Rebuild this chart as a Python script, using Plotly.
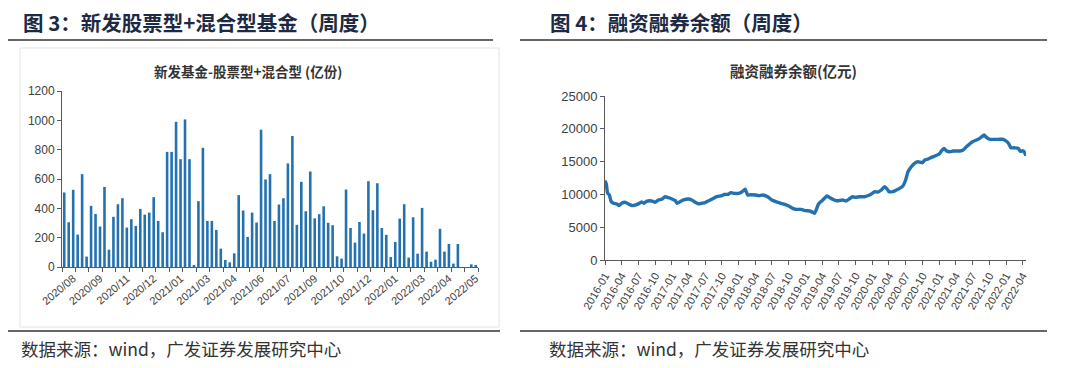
import plotly.graph_objects as go
import pandas as pd

# ---------------- data ----------------
fund_values = [
    508, 305, 526, 221, 633, 71, 417, 362, 276, 546, 118, 342, 428, 469, 269, 326, 280, 396, 357, 371, 476, 314, 237,
    785, 785, 990, 735, 1006, 735, 9, 449, 813, 314, 314, 253, 125, 48, 32, 93, 490, 385, 205, 371, 303, 936,
    597, 633, 314, 426, 469, 706, 893, 287, 581, 380, 651, 332, 360, 414, 301, 285, 73, 57, 528, 266, 166, 307, 228, 585, 387,
    571, 266, 219, 68, 171, 330, 428, 64, 339, 91, 403, 105, 36, 50, 260, 105, 157, 23, 157, 0, 0, 18, 14,
]
fund_weeks = pd.date_range("2020-08-14", periods=len(fund_values), freq="7D").strftime("%Y-%m-%d").tolist()
fund_tick_labels = ["2020/08", "2020/09", "2020/11", "2020/12", "2021/01", "2021/03", "2021/04", "2021/06",
                    "2021/07", "2021/09", "2021/10", "2021/12", "2022/01", "2022/03", "2022/04", "2022/05"]

margin_dates = [
    "2016-01-01", "2016-01-08", "2016-01-15", "2016-01-25", "2016-02-03", "2016-02-16", "2016-03-05", "2016-03-18",
    "2016-04-01", "2016-04-19", "2016-05-08", "2016-05-26", "2016-06-13", "2016-07-01", "2016-07-19", "2016-08-01",
    "2016-08-15", "2016-09-12", "2016-10-01", "2016-10-19", "2016-11-06", "2016-11-24", "2016-12-13", "2017-01-01",
    "2017-01-19", "2017-01-28", "2017-02-15", "2017-03-05", "2017-04-01", "2017-04-19", "2017-05-08", "2017-05-26",
    "2017-06-13", "2017-07-01", "2017-07-19", "2017-08-07", "2017-09-03", "2017-10-01", "2017-10-14", "2017-11-01",
    "2017-11-19", "2017-12-08", "2018-01-01", "2018-01-19", "2018-02-05", "2018-02-19", "2018-03-09", "2018-04-01",
    "2018-04-23", "2018-05-11", "2018-06-08", "2018-07-01", "2018-07-23", "2018-08-19", "2018-09-16", "2018-10-01",
    "2018-10-23", "2018-11-10", "2018-12-08", "2019-01-01", "2019-01-23", "2019-02-10", "2019-02-19", "2019-02-28",
    "2019-03-13", "2019-04-01", "2019-04-14", "2019-04-28", "2019-05-11", "2019-05-29", "2019-06-16", "2019-07-01",
    "2019-07-23", "2019-08-10", "2019-08-28", "2019-09-15", "2019-10-01", "2019-10-23", "2019-11-19", "2019-12-17",
    "2020-01-01", "2020-01-14", "2020-02-01", "2020-02-19", "2020-03-08", "2020-03-26", "2020-04-01", "2020-04-23",
    "2020-05-11", "2020-05-29", "2020-06-16", "2020-07-01", "2020-07-14", "2020-08-01", "2020-08-19", "2020-09-06",
    "2020-10-01", "2020-10-14", "2020-11-01", "2020-11-19", "2020-12-08", "2021-01-01", "2021-01-14", "2021-01-27",
    "2021-02-10", "2021-02-28", "2021-03-18", "2021-04-01", "2021-04-23", "2021-05-11", "2021-05-29", "2021-06-16",
    "2021-07-01", "2021-07-23", "2021-08-10", "2021-09-03", "2021-09-16", "2021-10-01", "2021-10-23", "2021-11-19",
    "2021-12-17", "2022-01-01", "2022-01-14", "2022-01-27", "2022-02-19", "2022-03-09", "2022-03-20", "2022-04-01",
    "2022-04-10", "2022-04-19",
]
margin_values = [
    12100, 11600, 10200, 9900, 8950, 8650, 8550, 8300,
    8650, 8800, 8550, 8300, 8380, 8550, 8850, 8650,
    8950, 9000, 8800, 9150, 9250, 9650, 9500, 9300,
    9050, 8650, 8900, 9150, 9300, 9150, 8800, 8550,
    8650, 8750, 9000, 9250, 9650, 9800, 10000, 10000,
    10250, 10150, 10150, 10400, 10800, 9900, 9950, 9900,
    9800, 9900, 9650, 9150, 8900, 8650, 8400, 8230,
    7870, 7720, 7720, 7520, 7470, 7260, 7110, 7620,
    8540, 9040, 9400, 9750, 9550, 9250, 9040, 9040,
    9140, 9000, 9300, 9650, 9550, 9650, 9650, 9900,
    10160, 10410, 10360, 10670, 11180, 10670, 10410, 10410,
    10670, 10920, 11280, 12190, 13460, 14220, 14730, 14990,
    14830, 15240, 15390, 15650, 15850, 16150, 16660, 17020,
    16610, 16510, 16610, 16610, 16610, 16760, 17270, 17680,
    18030, 18290, 18540, 19050, 18690, 18440, 18390, 18390,
    18400, 18140, 17780, 17120, 17100, 17020, 16550, 16650,
    16500, 15900,
]

# ---------------- helpers ----------------
W, H = 1080, 368
def px(x):
    return x / W
def py(y):
    return 1 - y / H

BLUE = "#2471b0"
AXIS = "#595959"
TXT = "#404040"
CJK = "Noto Sans CJK SC"
LAT = "Liberation Sans, Arial, sans-serif"

fig = go.Figure()

# left bars
n = len(fund_values)
fig.add_trace(go.Bar(
    x=list(range(n)), y=fund_values, marker_color=BLUE, marker_line_width=0,
    width=0.58, xaxis="x", yaxis="y", showlegend=False,
    customdata=fund_weeks, hovertemplate="%{customdata}: %{y}<extra></extra>",
))

# right line
fig.add_trace(go.Scatter(
    x=margin_dates, y=margin_values, mode="lines",
    line=dict(color=BLUE, width=3.4, shape="spline", smoothing=0.4),
    xaxis="x2", yaxis="y2", showlegend=False,
))

label_pos = list(range(2, n, 6))[:len(fund_tick_labels)]

fig.update_layout(
    width=W, height=H, margin=dict(l=0, r=0, t=0, b=0, pad=0, autoexpand=False),
    paper_bgcolor="white", plot_bgcolor="white",
    xaxis=dict(
        domain=[px(62), px(478)], range=[-0.5, n - 0.5], anchor="y", automargin=False,
        tickmode="array", tickvals=label_pos, ticktext=fund_tick_labels,
        ticks="", tickangle=-40, tickfont=dict(family=LAT, size=11, color=TXT),
        showline=True, linecolor=AXIS, linewidth=1, showgrid=False, zeroline=False,
        minor=dict(tickmode="linear", tick0=-0.5, dtick=3, ticks="outside", ticklen=4,
                   tickcolor=AXIS, tickwidth=1, showgrid=False),
    ),
    yaxis=dict(
        domain=[py(267), py(91)], range=[0, 1200], dtick=200, anchor="x", automargin=False,
        ticks="outside", ticklen=4, tickcolor=AXIS,
        tickfont=dict(family=LAT, size=12, color=TXT),
        showline=True, linecolor=AXIS, linewidth=1, showgrid=False, zeroline=False,
    ),
    xaxis2=dict(
        domain=[px(605), px(1026)], range=["2016-01-01", "2022-04-20"], anchor="y2", automargin=False,
        type="date", tick0="2016-01-01", dtick="M3", tickformat="%Y-%m",
        ticks="outside", ticklen=4, tickcolor=AXIS, tickangle=-60,
        tickfont=dict(family=LAT, size=11, color=TXT),
        showline=True, linecolor=AXIS, linewidth=1, showgrid=False, zeroline=False,
    ),
    yaxis2=dict(
        domain=[py(260), py(96)], range=[0, 25000], dtick=5000, anchor="x2", automargin=False,
        tickformat="d",
        ticks="outside", ticklen=4, tickcolor=AXIS,
        tickfont=dict(family=LAT, size=13, color=TXT),
        showline=True, linecolor=AXIS, linewidth=1, showgrid=False, zeroline=False,
    ),
)

# frames / rules
shapes = [
    dict(type="rect", xref="paper", yref="paper", x0=px(20), x1=px(499), y0=py(327), y1=py(48),
         line=dict(color="#e3e3e3", width=1)),
    dict(type="line", xref="paper", yref="paper", x0=px(8), x1=px(493), y0=py(40), y1=py(40),
         line=dict(color="#333333", width=1.5)),
    dict(type="line", xref="paper", yref="paper", x0=px(520), x1=px(1047), y0=py(40), y1=py(40),
         line=dict(color="#333333", width=1.5)),
    dict(type="line", xref="paper", yref="paper", x0=px(8), x1=px(500), y0=py(331), y1=py(331),
         line=dict(color="#333333", width=1.5)),
    dict(type="line", xref="paper", yref="paper", x0=px(520), x1=px(1047), y0=py(331), y1=py(331),
         line=dict(color="#333333", width=1.5)),
]
fig.update_layout(shapes=shapes)

TITLE_C = "#1c2a44"
ann = [
    dict(text="<b>图 3：新发股票型+混合型基金（周度）</b>", x=px(21), y=py(22), xanchor="left", yanchor="middle",
         font=dict(family=CJK, size=20.5, color=TITLE_C)),
    dict(text="<b>图 4：融资融券余额（周度）</b>", x=px(548), y=py(22), xanchor="left", yanchor="middle",
         font=dict(family=CJK, size=20.5, color=TITLE_C)),
    dict(text="<b>新发基金-股票型+混合型 (亿份)</b>", x=px(248), y=py(71), xanchor="center", yanchor="middle",
         font=dict(family=CJK, size=13.5, color="#333333")),
    dict(text="<b>融资融券余额(亿元)</b>", x=px(793), y=py(70), xanchor="center", yanchor="middle",
         font=dict(family=CJK, size=14.5, color="#333333")),
    dict(text="数据来源：wind，广发证券发展研究中心", x=px(19), y=py(348), xanchor="left", yanchor="middle",
         font=dict(family=CJK, size=17.5, color="#333333")),
    dict(text="数据来源：wind，广发证券发展研究中心", x=px(547), y=py(348), xanchor="left", yanchor="middle",
         font=dict(family=CJK, size=17.5, color="#333333")),
]
for a in ann:
    a.update(xref="paper", yref="paper", showarrow=False)
fig.update_layout(annotations=ann)

fig.write_html(
    "out.html",
    config={"displayModeBar": False},
    post_script="document.body.style.margin='0';document.body.style.overflow='hidden';",
)
